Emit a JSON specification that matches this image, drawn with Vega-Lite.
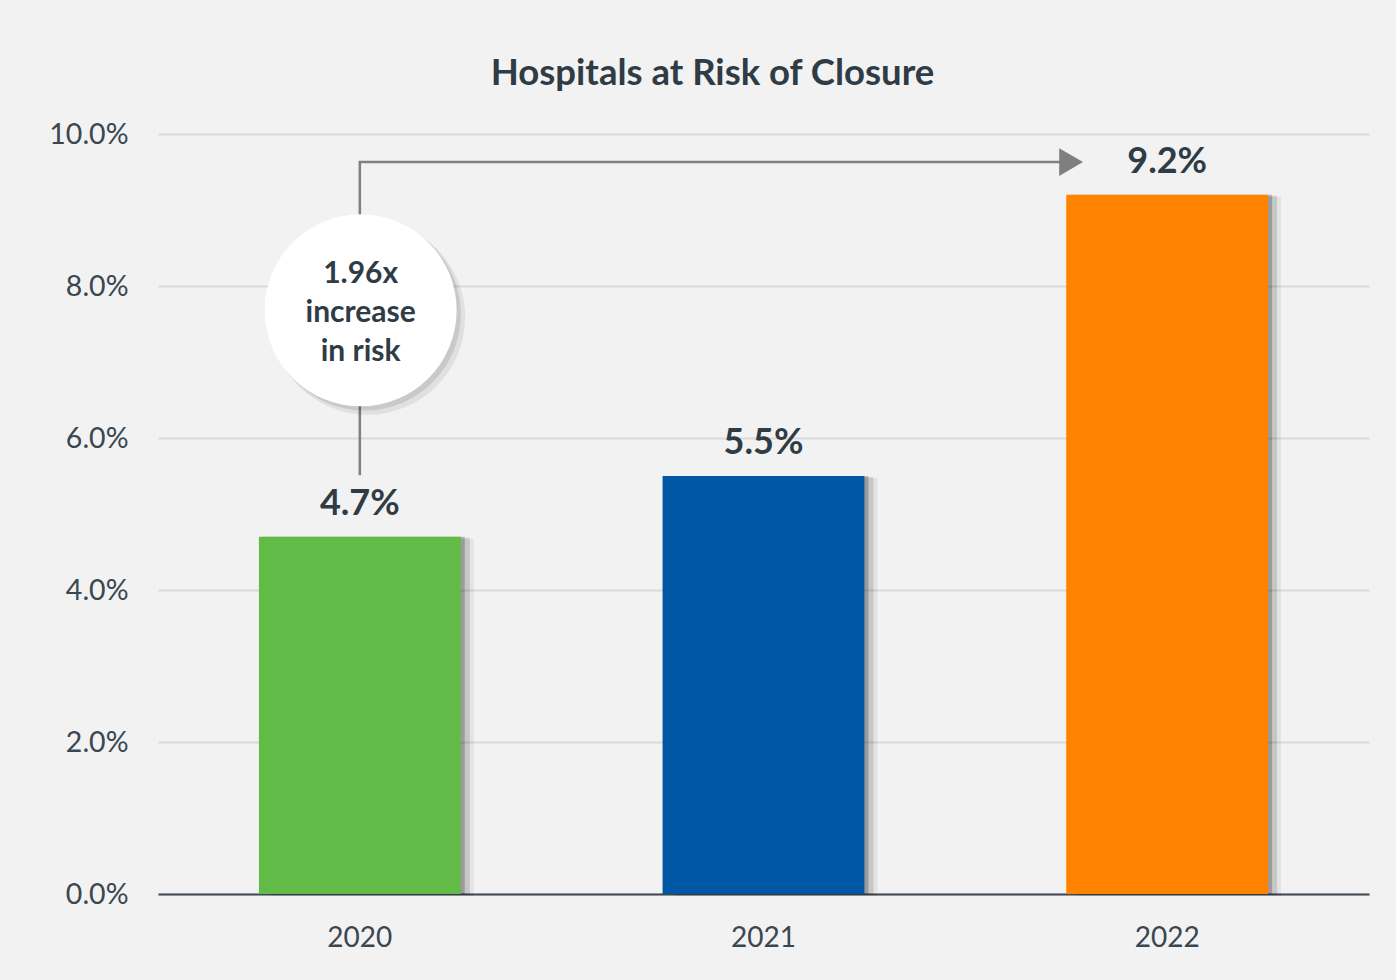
{
  "$schema": "https://vega.github.io/schema/vega-lite/v6.json",
  "width": 1211,
  "height": 760,
  "autosize": {"type": "none"},
  "padding": {"left": 158, "top": 134, "right": 27, "bottom": 86},
  "background": "#f2f2f2",
  "config": {"view": {"stroke": null}, "font": "Lato"},
  "title": {
    "text": "Hospitals at Risk of Closure",
    "fontSize": 36.5,
    "fontWeight": "bold",
    "color": "#2f3c46",
    "anchor": "middle",
    "baseline": "alphabetic",
    "offset": -1,
    "dx": -51
  },
  "datasets": {
    "bars": [
      {"year": "2020", "rate": 0.047, "label": "4.7%"},
      {"year": "2021", "rate": 0.055, "label": "5.5%"},
      {"year": "2022", "rate": 0.092, "label": "9.2%"}
    ],
    "arrow": [
      {"px": 0.5, "py": 0.0551, "ord": 1},
      {"px": 0.5, "py": 0.0963, "ord": 2},
      {"px": 2.235, "py": 0.0963, "ord": 3}
    ],
    "arrowhead": [{"px": 2.262, "py": 0.0963}],
    "bubble": [{"px": 0.502, "py": 0.0768, "text": "1.96x\nincrease\nin risk"}]
  },
  "layer": [
    {
      "data": {"name": "bars"},
      "encoding": {
        "x": {
          "field": "year",
          "type": "ordinal",
          "scale": {"paddingInner": 0.5, "paddingOuter": 0.25},
          "axis": {
            "title": null,
            "labelAngle": 0,
            "labelFontSize": 28,
            "labelColor": "#3a4650",
            "labelPadding": 30,
            "ticks": false,
            "domain": true,
            "domainColor": "#3d4852",
            "domainWidth": 2,
            "grid": false
          }
        },
        "y": {
          "field": "rate",
          "type": "quantitative",
          "scale": {"domain": [0, 0.1], "nice": false},
          "axis": {
            "title": null,
            "values": [0, 0.02, 0.04, 0.06, 0.08, 0.1],
            "format": ".1%",
            "labelFontSize": 28.5,
            "labelColor": "#3a4650",
            "labelPadding": 30,
            "ticks": false,
            "domain": false,
            "grid": true,
            "gridColor": "#d9d9d9",
            "gridWidth": 2
          }
        }
      },
      "layer": [
        {"mark": {"type": "bar", "color": "#000000", "opacity": 0.06, "xOffset": 13, "yOffset": 2}},
        {"mark": {"type": "bar", "color": "#000000", "opacity": 0.12, "xOffset": 9, "yOffset": 1}},
        {"mark": {"type": "bar", "color": "#000000", "opacity": 0.22, "xOffset": 4}},
        {
          "mark": {"type": "bar"},
          "encoding": {
            "color": {
              "field": "year",
              "type": "nominal",
              "scale": {"domain": ["2020", "2021", "2022"], "range": ["#62bb46", "#0057a3", "#ff8300"]},
              "legend": null
            }
          }
        },
        {
          "mark": {"type": "text", "fontSize": 36, "fontWeight": "bold", "color": "#2f3c46", "baseline": "alphabetic", "dy": -22},
          "encoding": {"text": {"field": "label", "type": "nominal"}}
        }
      ]
    },
    {
      "data": {"name": "arrow"},
      "mark": {"type": "line", "color": "#7f7f7f", "strokeWidth": 2.5},
      "encoding": {
        "x": {"field": "px", "type": "quantitative", "scale": {"domain": [0, 3], "nice": false, "zero": false}, "axis": null},
        "y": {"field": "py", "type": "quantitative"},
        "order": {"field": "ord", "type": "quantitative"}
      }
    },
    {
      "data": {"name": "arrowhead"},
      "mark": {"type": "point", "shape": "triangle-right", "size": 760, "filled": true, "color": "#7f7f7f", "opacity": 1},
      "encoding": {
        "x": {"field": "px", "type": "quantitative", "scale": {"domain": [0, 3], "nice": false, "zero": false}, "axis": null},
        "y": {"field": "py", "type": "quantitative"}
      }
    },
    {
      "data": {"name": "bubble"},
      "encoding": {
        "x": {"field": "px", "type": "quantitative", "scale": {"domain": [0, 3], "nice": false, "zero": false}, "axis": null},
        "y": {"field": "py", "type": "quantitative"}
      },
      "layer": [
        {"mark": {"type": "point", "shape": "circle", "size": 38000, "filled": true, "color": "#000000", "opacity": 0.07, "xOffset": 7, "yOffset": 7}},
        {"mark": {"type": "point", "shape": "circle", "size": 37000, "filled": true, "color": "#000000", "opacity": 0.1, "xOffset": 4, "yOffset": 4}},
        {"mark": {"type": "point", "shape": "circle", "size": 36864, "filled": true, "color": "#ffffff", "opacity": 1}},
        {
          "mark": {"type": "text", "fontSize": 30, "fontWeight": "bold", "color": "#2f3c46", "lineBreak": "\n", "lineHeight": 39, "baseline": "middle", "dy": -36},
          "encoding": {"text": {"field": "text", "type": "nominal"}}
        }
      ]
    }
  ],
  "resolve": {"scale": {"x": "independent"}}
}
